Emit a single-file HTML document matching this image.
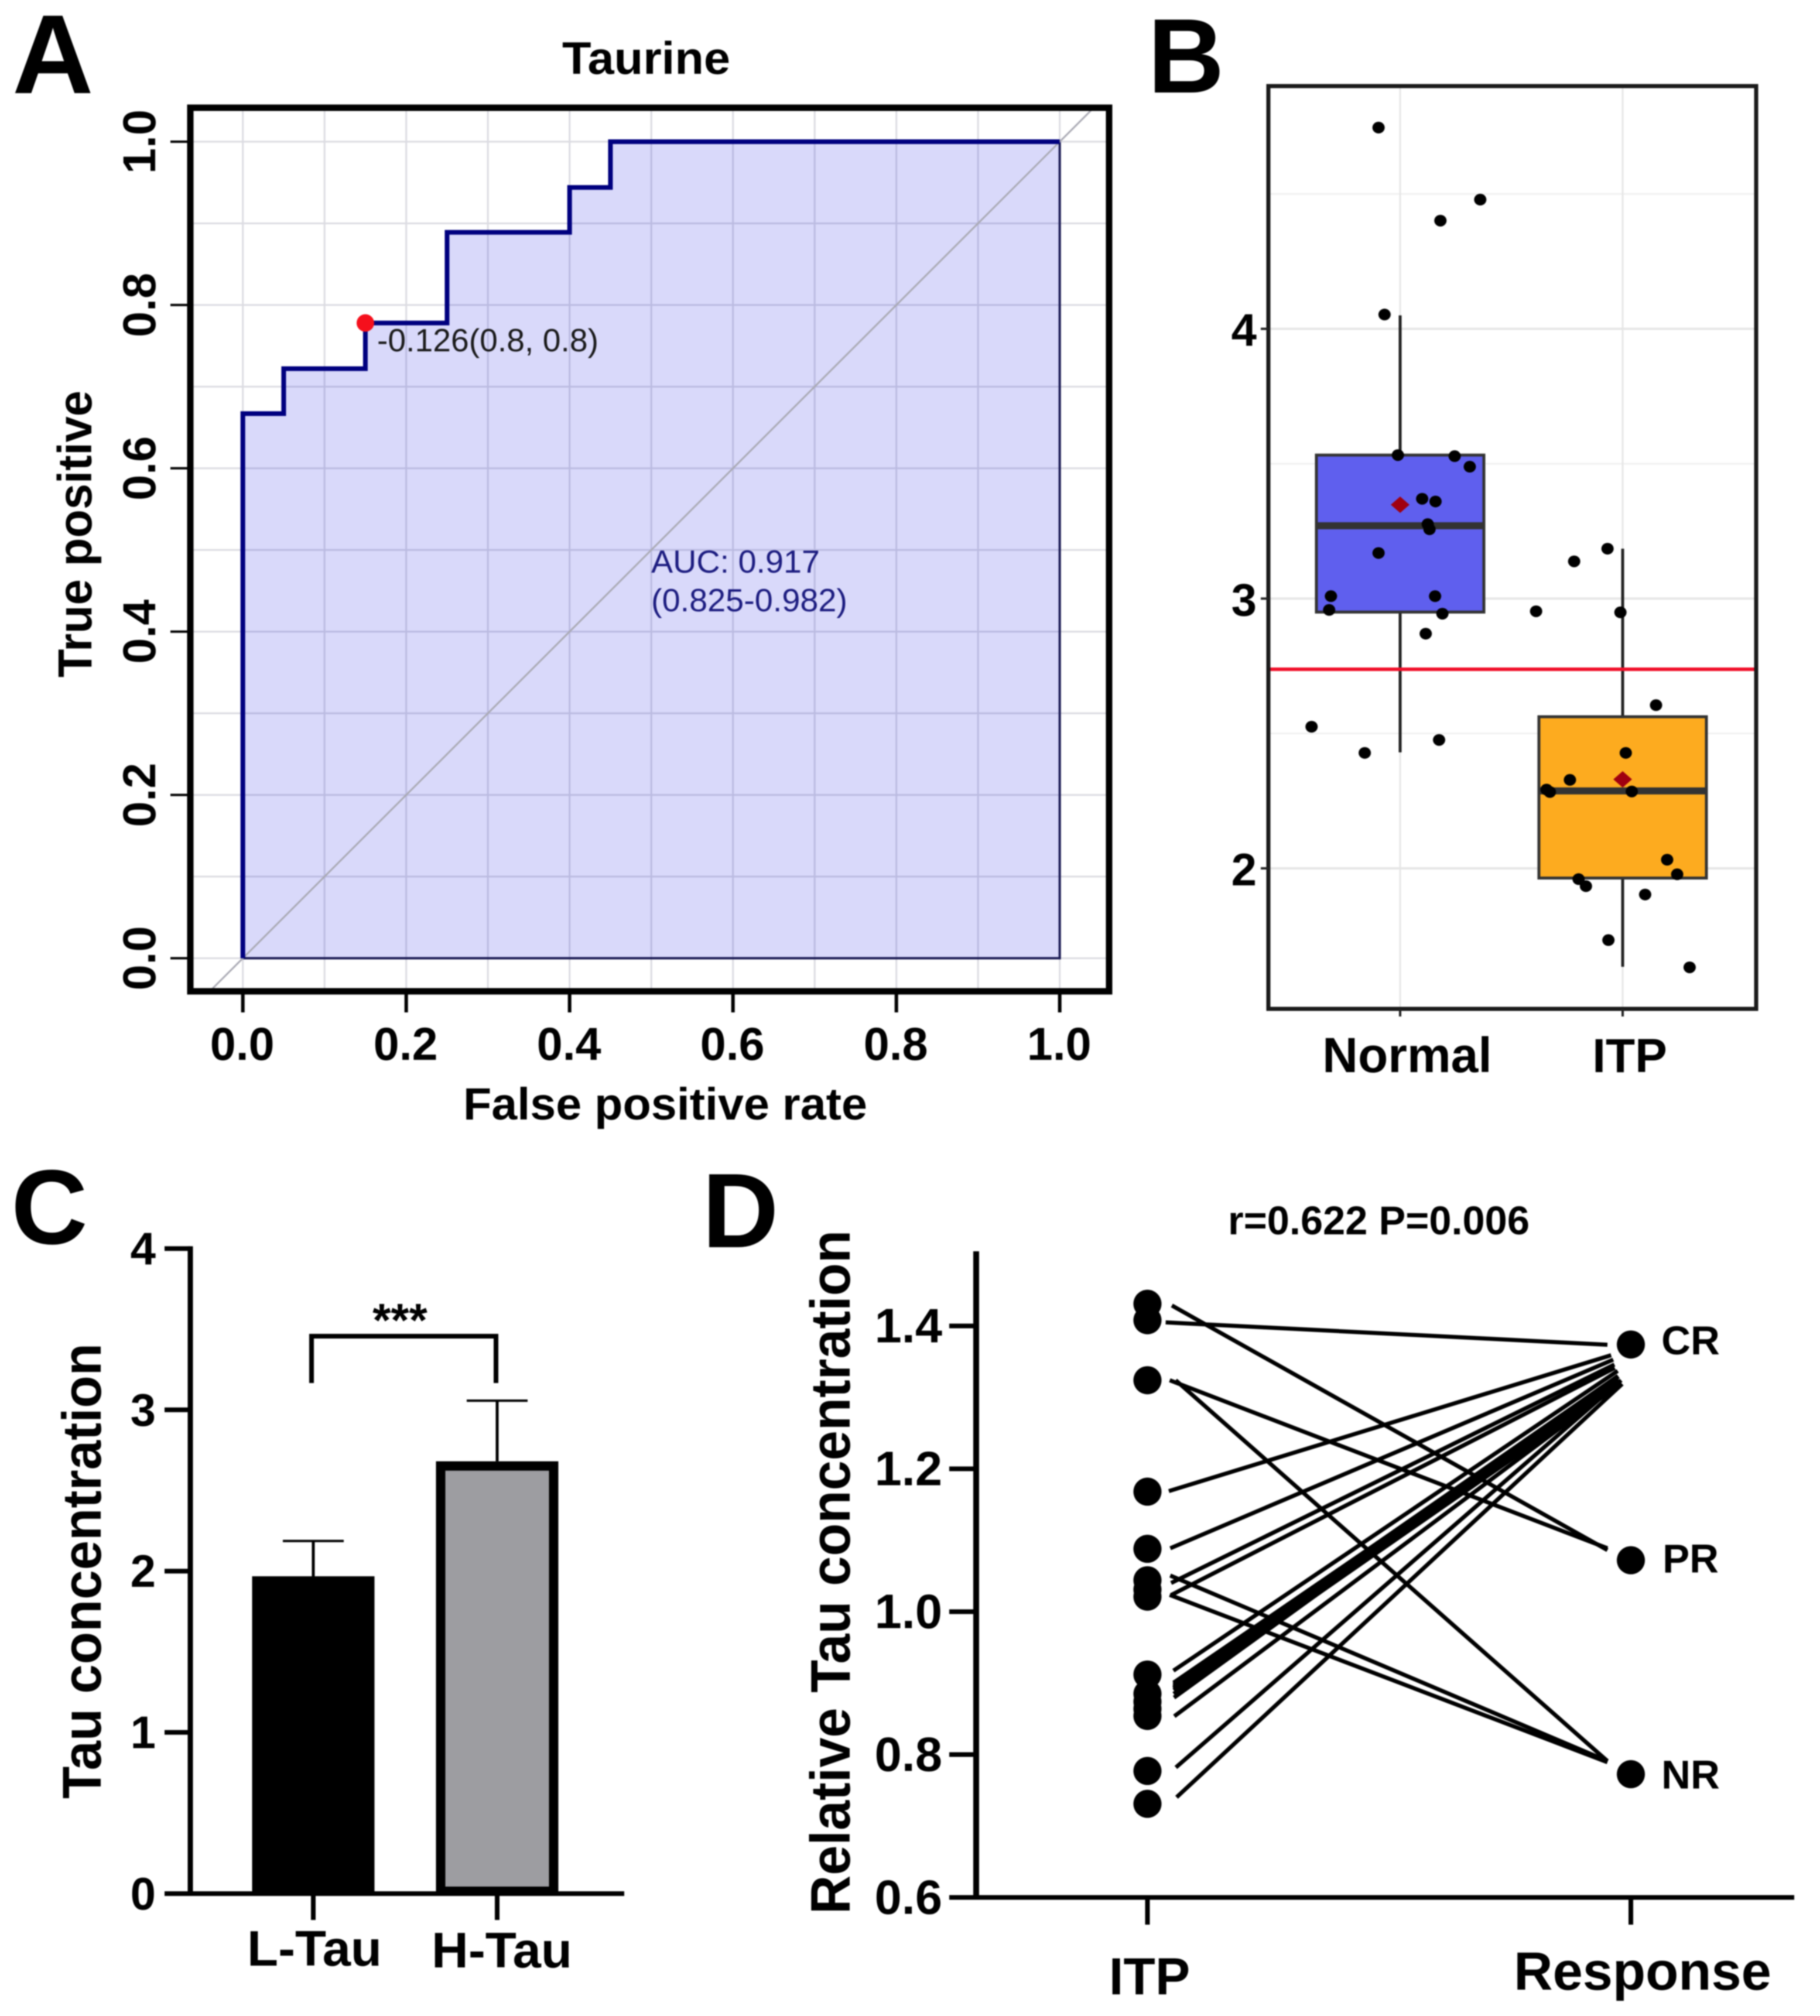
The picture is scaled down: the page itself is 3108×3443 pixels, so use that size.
<!DOCTYPE html>
<html lang="en">
<head>
<meta charset="utf-8">
<title>Taurine figure</title>
<style>
html,body{margin:0;padding:0;background:#fff;width:3108px;height:3443px;overflow:hidden}
svg{display:block;filter:blur(1px)}
text{font-family:"Liberation Sans",sans-serif;font-weight:700;fill:#000}
</style>
</head>
<body>
<svg id="fig" xmlns="http://www.w3.org/2000/svg" width="3108" height="3443" viewBox="0 0 3108 3443">
  <rect x="0" y="0" width="3108" height="3443" fill="#fff"/>
  <text x="21" y="159" font-size="192">A</text>
  <text x="1960" y="158" font-size="181">B</text>
  <text x="19" y="2124" font-size="181">C</text>
  <text x="1199" y="2130" font-size="181">D</text>

  <g id="panelA">
    <text x="960" y="126" font-size="78" textLength="287" lengthAdjust="spacingAndGlyphs">Taurine</text>
    <g id="aGridLayer"></g>
    <g id="aMarks"></g>
    <rect x="325" y="184" width="1569" height="1509" fill="none" stroke="#000" stroke-width="11"/>
    <g id="aAxes"></g>
    <text x="791" y="1912" font-size="77" textLength="690" lengthAdjust="spacingAndGlyphs">False positive rate</text>
    <text x="156" y="1157" font-size="82" transform="rotate(-90 156 1157)" textLength="490" lengthAdjust="spacingAndGlyphs">True positive</text>
    <text x="644" y="600" font-size="55" style="font-weight:400;fill:#1a1a1a" textLength="378" lengthAdjust="spacingAndGlyphs">-0.126(0.8, 0.8)</text>
    <text x="1112" y="978" font-size="55" style="font-weight:400;fill:#1c1c80" textLength="288" lengthAdjust="spacingAndGlyphs">AUC: 0.917</text>
    <text x="1112" y="1044" font-size="55" style="font-weight:400;fill:#1c1c80" textLength="335" lengthAdjust="spacingAndGlyphs">(0.825-0.982)</text>
  </g>

  <g id="panelB">
    <g id="bGridLayer"></g>
    <g id="bMarks"></g>
    <rect x="2166" y="147" width="833" height="1576" fill="none" stroke="#1a1a1a" stroke-width="7"/>
    <g id="bAxes"></g>
  </g>

  <g id="panelC">
    <g id="cMarks"></g>
    <g id="cAxes"></g>
    <text x="172" y="3072" font-size="94" transform="rotate(-90 172 3072)" textLength="778" lengthAdjust="spacingAndGlyphs">Tau concentration</text>
    <path d="M532 2362V2282H847V2362" fill="none" stroke="#000" stroke-width="8"/>
    <text x="683" y="2282" font-size="80" text-anchor="middle">***</text>
  </g>

  <g id="panelD">
    <text x="2097" y="2108" font-size="69" textLength="515" lengthAdjust="spacingAndGlyphs">r=0.622 P=0.006</text>
    <text x="1451" y="3269" font-size="96" transform="rotate(-90 1451 3269)" textLength="1168" lengthAdjust="spacingAndGlyphs">Relative Tau concentration</text>
    <g id="dMarks"></g>
    <g id="dAxes"></g>
  </g>
</svg>

<script>
/* ---------- Panel A data ---------- */
const rocFpr = [0, 0, 0.05, 0.05, 0.15, 0.15, 0.25, 0.25, 0.40, 0.40, 0.45, 0.45, 1];
const rocTpr = [0, 0.667, 0.667, 0.722, 0.722, 0.778, 0.778, 0.889, 0.889, 0.944, 0.944, 1, 1];
const rocGridValues = [0, 0.1, 0.2, 0.3, 0.4, 0.5, 0.6, 0.7, 0.8, 0.9, 1];
const rocTicks = [0, 0.2, 0.4, 0.6, 0.8, 1];
const rocTickLabels = ['0.0', '0.2', '0.4', '0.6', '0.8', '1.0'];
const rocCutoffPoint = [0.15, 0.778];
const rocDiagonal = [-0.04, 1.04];

/* ---------- Panel B data ---------- */
const boxCategories = ['Normal', 'ITP'];
const boxQ1 = [2.95, 1.964];
const boxMedian = [3.27, 2.287];
const boxQ3 = [3.532, 2.562];
const boxLow = [2.43, 1.635];
const boxHigh = [4.05, 3.185];
const boxMean = [3.348, 2.33];
const boxColors = ['#5f5fee', '#fdab1f'];
const boxThreshold = 2.738;
const boxYTicks = [2, 3, 4];
const boxYTickLabels = ['2', '3', '4'];
const boxYMinor = [2.5, 3.5, 4.5];
const normalJitter = [-0.097, 0.360, 0.181, -0.070, -0.010, 0.245, 0.313, 0.099, 0.159, 0.124, 0.132, -0.097, -0.311, 0.157, -0.319, 0.190, 0.115, -0.398, -0.159, 0.175];
const normalValues = [4.746, 4.479, 4.401, 4.053, 3.532, 3.528, 3.489, 3.370, 3.360, 3.276, 3.257, 3.169, 3.009, 3.009, 2.958, 2.944, 2.870, 2.525, 2.428, 2.476];
const itpJitter = [-0.068, -0.218, -0.389, -0.010, 0.150, 0.014, -0.237, -0.342, -0.327, 0.041, 0.200, 0.245, -0.198, -0.165, 0.101, -0.064, 0.301];
const itpValues = [3.185, 3.138, 2.953, 2.949, 2.605, 2.428, 2.328, 2.292, 2.283, 2.285, 2.032, 1.978, 1.960, 1.934, 1.903, 1.734, 1.633];

/* ---------- Panel C data ---------- */
const barCategories = ['L-Tau', 'H-Tau'];
const barMeans = [1.968, 2.681];
const barErrors = [0.219, 0.376];
const barYTicks = [0, 1, 2, 3, 4];
const barYTickLabels = ['0', '1', '2', '3', '4'];

/* ---------- Panel D data ---------- */
const pairedYTicks = [0.6, 0.8, 1.0, 1.2, 1.4];
const pairedYTickLabels = ['0.6', '0.8', '1.0', '1.2', '1.4'];
const pairedXLabels = ['ITP', 'Response'];
const pairedItpPoints = [1.431, 1.408, 1.324, 1.168, 1.088, 1.044, 1.031, 1.021, 0.912, 0.885, 0.874, 0.864, 0.854, 0.777, 0.731];
const responseGroups = ['CR', 'PR', 'NR'];
const responseValues = [1.374, 1.072, 0.7725];
const lineFrom = [1.4286, 1.4050, 1.3240, 1.3240, 1.1688, 1.0888, 1.0402, 1.0235, 1.0506, 1.0235, 0.9174, 0.9006, 0.8954, 0.8902, 0.8797, 0.8536, 0.7820, 0.7402, 0.8980, 0.8850, 0.8930];
const lineTo = [1.0862, 1.3737, 1.0888, 0.7909, 1.3590, 1.3528, 1.3460, 1.3413, 0.7909, 0.7893, 1.3371, 1.3266, 1.3240, 1.3214, 1.3292, 1.3188, 1.3240, 1.3188, 1.3300, 1.3170, 1.3150];

/* ---------- helpers ---------- */
const NS = 'http://www.w3.org/2000/svg';
function mk(tag, parentId, attrs) {
  const node = document.createElementNS(NS, tag);
  for (const key in attrs) node.setAttribute(key, attrs[key]);
  document.getElementById(parentId).appendChild(node);
  return node;
}
let el;

/* ---------- Panel A ---------- */
const ax = v => 414.7 + v * 1395;
const ay = v => 1636.5 - v * 1394.5;
rocGridValues.forEach(v => {
  el = mk('line', 'aGridLayer', {x1: ax(v), x2: ax(v), y1: 184, y2: 1693, stroke: '#dcdce2', 'stroke-width': 3});
  
  
  el = mk('line', 'aGridLayer', {x1: 325, x2: 1894, y1: ay(v), y2: ay(v), stroke: '#dcdce2', 'stroke-width': 3});
  
  
});
const rocPts = rocFpr.map((f, i) => ax(f) + ',' + ay(rocTpr[i]));
el = mk('polygon', 'aMarks', {points: rocPts.join(' ') + ' ' + ax(1) + ',' + ay(0), fill: '#0000e0', 'fill-opacity': 0.15, stroke: '#1b1b55', 'stroke-width': 4});


el = mk('line', 'aMarks', {x1: ax(rocDiagonal[0]), y1: ay(rocDiagonal[0]), x2: ax(rocDiagonal[1]), y2: ay(rocDiagonal[1]), stroke: '#aaaab4', 'stroke-width': 3});


el = mk('polyline', 'aMarks', {points: rocPts.join(' '), fill: 'none', stroke: '#00007f', 'stroke-width': 8, 'stroke-linejoin': 'miter'});


el = mk('circle', 'aMarks', {cx: ax(rocCutoffPoint[0]), cy: ay(rocCutoffPoint[1]), r: 15, fill: '#f5101c'});


rocTicks.forEach((v, i) => {
  el = mk('line', 'aAxes', {x1: ax(v), x2: ax(v), y1: 1693, y2: 1729, stroke: '#000', 'stroke-width': 6});
  
  
  el = mk('line', 'aAxes', {x1: 291, x2: 325, y1: ay(v), y2: ay(v), stroke: '#000', 'stroke-width': 4});
  
  
  el = mk('text', 'aAxes', {x: ax(v) - 1, y: 1810, 'font-size': 79, 'text-anchor': 'middle'});
  el.textContent = rocTickLabels[i];
  
  
  el = mk('text', 'aAxes', {x: 265, y: ay(v), 'font-size': 79, 'text-anchor': 'middle', transform: 'rotate(-90 265 ' + ay(v) + ')'});
  el.textContent = rocTickLabels[i];
  
  
});

/* ---------- Panel B ---------- */
const bx = c => 2391 + c * 380;
const by = v => 1483 - (v - 2) * 460.7;
boxYMinor.forEach(v => {
  el = mk('line', 'bGridLayer', {x1: 2166, x2: 2999, y1: by(v), y2: by(v), stroke: '#f1f1f1', 'stroke-width': 3});
  
  
});
boxYTicks.forEach(v => {
  el = mk('line', 'bGridLayer', {x1: 2166, x2: 2999, y1: by(v), y2: by(v), stroke: '#e6e6e6', 'stroke-width': 4});
  
  
});
boxCategories.forEach((name, c) => {
  el = mk('line', 'bGridLayer', {x1: bx(c), x2: bx(c), y1: 146, y2: 1723, stroke: '#e6e6e6', 'stroke-width': 3});
  
  
  el = mk('line', 'bMarks', {x1: bx(c), x2: bx(c), y1: by(boxHigh[c]), y2: by(boxLow[c]), stroke: '#222', 'stroke-width': 5});
  
  
  el = mk('rect', 'bMarks', {x: bx(c) - 143, y: by(boxQ3[c]), width: 286, height: by(boxQ1[c]) - by(boxQ3[c]), fill: boxColors[c], stroke: '#333', 'stroke-width': 5});
  
  
  el = mk('line', 'bMarks', {x1: bx(c) - 143, x2: bx(c) + 143, y1: by(boxMedian[c]), y2: by(boxMedian[c]), stroke: '#333', 'stroke-width': 12});
  
  
  const mx = bx(c), my = by(boxMean[c]);
  el = mk('polygon', 'bMarks', {points: (mx - 16) + ',' + my + ' ' + mx + ',' + (my - 14) + ' ' + (mx + 16) + ',' + my + ' ' + mx + ',' + (my + 14), fill: '#a00010'});
  
  
  el = mk('line', 'bAxes', {x1: bx(c), x2: bx(c), y1: 1723, y2: 1736, stroke: '#222', 'stroke-width': 4});
  
  
  el = mk('text', 'bAxes', {x: bx(c) + 12, y: 1831, 'font-size': c === 0 ? 84 : 82, 'text-anchor': 'middle'});
  el.textContent = name;
  
  
});
normalValues.forEach((v, i) => {
  el = mk('ellipse', 'bMarks', {cx: bx(normalJitter[i]), cy: by(v), rx: 10.5, ry: 10, fill: '#000'});
  
  
});
itpValues.forEach((v, i) => {
  el = mk('ellipse', 'bMarks', {cx: bx(1 + itpJitter[i]), cy: by(v), rx: 10.5, ry: 10, fill: '#000'});
  
  
});
el = mk('line', 'bMarks', {x1: 2166, x2: 2999, y1: by(boxThreshold), y2: by(boxThreshold), stroke: '#f0102a', 'stroke-width': 6});


boxYTicks.forEach((v, i) => {
  el = mk('line', 'bAxes', {x1: 2153, x2: 2166, y1: by(v), y2: by(v), stroke: '#222', 'stroke-width': 4});
  
  
  el = mk('text', 'bAxes', {x: 2146, y: by(v) + 29, 'font-size': 78, 'text-anchor': 'end'});
  el.textContent = boxYTickLabels[i];
  
  
});

/* ---------- Panel C ---------- */
const cx = i => 535 + i * 314;
const cy = v => 3234 - v * 275.4;
barCategories.forEach((name, i) => {
  const top = cy(barMeans[i]);
  const errTop = cy(barMeans[i] + barErrors[i]);
  el = mk('line', 'cMarks', {x1: cx(i), x2: cx(i), y1: top, y2: errTop, stroke: '#000', 'stroke-width': 5});
  
  
  el = mk('line', 'cMarks', {x1: cx(i) - 52, x2: cx(i) + 52, y1: errTop, y2: errTop, stroke: '#000', 'stroke-width': 4});
  
  
  if (i === 0) {
    el = mk('rect', 'cMarks', {x: cx(i) - 104.5, y: top, width: 209, height: 3234 - top, fill: '#000'});
  } else {
    el = mk('rect', 'cMarks', {x: cx(i) - 96.5, y: top + 8, width: 193, height: 3234 - top - 12, fill: '#9d9da1', stroke: '#000', 'stroke-width': 16});
  }
  
  
  el = mk('line', 'cAxes', {x1: cx(i), x2: cx(i), y1: 3234, y2: 3279, stroke: '#000', 'stroke-width': 8});
  
  
  el = mk('text', 'cAxes', {x: cx(i) + (i === 0 ? -113 : -112), y: i === 0 ? 3357 : 3360, 'font-size': 85, textLength: i === 0 ? 230 : 240, lengthAdjust: 'spacingAndGlyphs'});
  el.textContent = name;
  
  
});
el = mk('line', 'cAxes', {x1: 325, x2: 325, y1: cy(4) - 4, y2: cy(0), stroke: '#000', 'stroke-width': 9});


el = mk('line', 'cAxes', {x1: 281, x2: 1066, y1: cy(0), y2: cy(0), stroke: '#000', 'stroke-width': 8});


barYTicks.forEach((v, i) => {
  el = mk('line', 'cAxes', {x1: 281, x2: 325, y1: cy(v), y2: cy(v), stroke: '#000', 'stroke-width': 8});
  
  
  el = mk('text', 'cAxes', {x: 266, y: cy(v) + 27, 'font-size': 78, 'text-anchor': 'end'});
  el.textContent = barYTickLabels[i];
  
  
});

/* ---------- Panel D ---------- */
const dxItp = 1959.5, dxResp = 2785;
const dy = v => 3240.5 - (v - 0.6) * 1220;
lineFrom.forEach((v, i) => {
  const y1 = dy(v), y2 = dy(lineTo[i]);
  const delta = Math.abs(y2 - y1);
  const startPad = 30 + 0.028 * delta;
  const endPad = y2 < y1 ? 43 - 0.04 * delta : 40;
  el = mk('line', 'dMarks', {x1: dxItp + startPad, y1: y1, x2: dxResp - endPad, y2: y2, stroke: '#000', 'stroke-width': 7});
  
  
});
pairedItpPoints.forEach(v => {
  el = mk('circle', 'dMarks', {cx: dxItp, cy: dy(v), r: 24, fill: '#000'});
  
  
});
responseValues.forEach((v, i) => {
  el = mk('circle', 'dMarks', {cx: dxResp, cy: dy(v), r: 24, fill: '#000'});
  
  
  el = mk('text', 'dMarks', {x: dxResp + 102, y: dy(v) + 17 + i * 3.7, 'font-size': 69, 'text-anchor': 'middle'});
  el.textContent = responseGroups[i];
  
  
});
el = mk('line', 'dAxes', {x1: 1667, x2: 1667, y1: 2137, y2: dy(0.6), stroke: '#000', 'stroke-width': 10});


el = mk('line', 'dAxes', {x1: 1621, x2: 3064, y1: dy(0.6), y2: dy(0.6), stroke: '#000', 'stroke-width': 8});


pairedYTicks.forEach((v, i) => {
  el = mk('line', 'dAxes', {x1: 1621, x2: 1667, y1: dy(v), y2: dy(v), stroke: '#000', 'stroke-width': 8});
  
  
  el = mk('text', 'dAxes', {x: 1609, y: dy(v) + 28, 'font-size': 83, 'text-anchor': 'end'});
  el.textContent = pairedYTickLabels[i];
  
  
});
pairedXLabels.forEach((name, i) => {
  const tx = i === 0 ? dxItp : dxResp;
  el = mk('line', 'dAxes', {x1: tx, x2: tx, y1: dy(0.6), y2: 3287, stroke: '#000', 'stroke-width': 8});
  
  
  el = mk('text', 'dAxes', {x: i === 0 ? 1963 : 2805, y: i === 0 ? 3406 : 3398, 'font-size': i === 0 ? 89 : 92, 'text-anchor': 'middle'});
  el.textContent = name;
  
  
});
</script>
</body>
</html>
